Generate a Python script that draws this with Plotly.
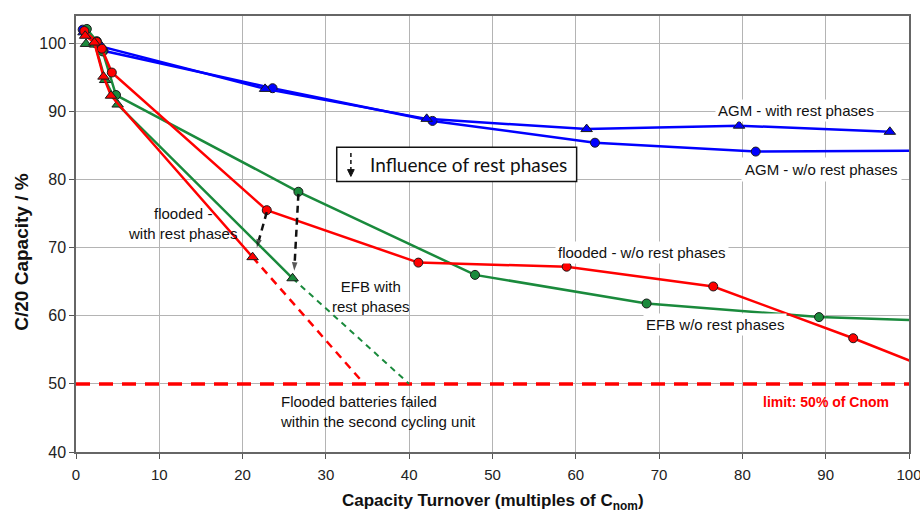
import plotly.graph_objects as go

# ---------------- data ----------------
agm_rest_x = [0.9, 2.3, 3.1, 22.7, 42.1, 61.3, 79.6, 97.7]
agm_rest_y = [101.6, 100.2, 99.5, 93.3, 88.9, 87.4, 87.9, 87.0]

agm_norest_x = [0.8, 2.4, 3.3, 23.6, 42.8, 62.3, 81.6, 110.0]
agm_norest_y = [102.0, 100.0, 98.9, 93.4, 88.6, 85.4, 84.1, 84.3]

efb_rest_x = [1.2, 2.3, 3.5, 5.0, 26.0]
efb_rest_y = [99.9, 99.8, 94.6, 91.0, 65.5]
efb_rest_ext_x = [26.0, 40.0]
efb_rest_ext_y = [65.5, 50.0]

efb_norest_x = [1.3, 2.5, 3.2, 4.8, 26.7, 47.9, 68.5, 89.2, 110.0]
efb_norest_y = [102.1, 100.3, 98.8, 92.4, 78.2, 66.0, 61.8, 59.8, 59.0]

fl_rest_x = [1.1, 2.2, 3.3, 4.2, 21.2]
fl_rest_y = [101.1, 100.1, 95.1, 92.3, 68.6]
fl_rest_ext_x = [21.2, 34.6]
fl_rest_ext_y = [68.6, 50.0]

fl_norest_x = [1.0, 2.5, 3.1, 4.3, 22.9, 41.1, 58.9, 76.5, 93.3, 105.0]
fl_norest_y = [101.8, 100.2, 99.2, 95.7, 75.5, 67.8, 67.2, 64.3, 56.7, 51.0]

# influence arrows (from w/o rest point to with-rest point)
infl_fl_x = [22.9, 21.7]
infl_fl_y = [75.2, 70.0]
infl_efb_x = [26.7, 26.2]
infl_efb_y = [77.9, 66.6]

limit_x = [0, 100]
limit_y = [50, 50]

x_ticks = [0, 10, 20, 30, 40, 50, 60, 70, 80, 90, 100]
y_ticks = [40, 50, 60, 70, 80, 90, 100]

BLUE = "#0000ff"
RED = "#ff0000"
GREEN = "#1a8a3c"
EDGE = "#1a1a1a"
FONT = "Liberation Sans, Arial, sans-serif"

fig = go.Figure()


def series(x, y, color, symbol, size):
    fig.add_trace(go.Scatter(
        x=x, y=y, mode="lines+markers",
        line=dict(color=color, width=2.5),
        marker=dict(symbol=symbol, size=size, color=color,
                    line=dict(color=EDGE, width=1)),
        showlegend=False, hoverinfo="skip"))


# limit line
fig.add_trace(go.Scatter(x=limit_x, y=limit_y, mode="lines",
                         line=dict(color=RED, width=3.5, dash="14px,9px"),
                         showlegend=False, hoverinfo="skip"))
# extrapolations
fig.add_trace(go.Scatter(x=fl_rest_ext_x, y=fl_rest_ext_y, mode="lines",
                         line=dict(color=RED, width=2.5, dash="8px,6px"),
                         showlegend=False, hoverinfo="skip"))
fig.add_trace(go.Scatter(x=efb_rest_ext_x, y=efb_rest_ext_y, mode="lines",
                         line=dict(color=GREEN, width=2, dash="6px,5px"),
                         showlegend=False, hoverinfo="skip"))

series(agm_norest_x, agm_norest_y, BLUE, "circle", 9)
series(agm_rest_x, agm_rest_y, BLUE, "triangle-up", 10)
series(efb_norest_x, efb_norest_y, GREEN, "circle", 9)
series(efb_rest_x, efb_rest_y, GREEN, "triangle-up", 10)
series(fl_norest_x, fl_norest_y, RED, "circle", 9)
series(fl_rest_x, fl_rest_y, RED, "triangle-up", 10)

# dashed influence arrows
for ax_, ay_ in [(infl_fl_x, infl_fl_y), (infl_efb_x, infl_efb_y)]:
    fig.add_trace(go.Scatter(
        x=ax_, y=ay_, mode="lines+markers",
        line=dict(color="#111111", width=2.5, dash="7px,5px"),
        marker=dict(symbol=["circle", "arrow"], size=[1, 9], color="#111111",
                    angleref="previous", line=dict(width=0)),
        showlegend=False, hoverinfo="skip"))

# Influence box
shapes = [
    dict(type="rect", xref="x", yref="y", x0=31.3, x1=60.1, y0=79.7, y1=84.75,
         line=dict(color="#111111", width=1.5), fillcolor="white", layer="above"),
    dict(type="line", xref="x", yref="y", x0=33.0, x1=33.0, y0=83.9, y1=81.4,
         line=dict(color="#111111", width=1.5, dash="4px,3px"), layer="above"),
    dict(type="path", xref="x", yref="y",
         path="M 32.6,81.45 L 33.4,81.45 L 33.0,80.45 Z",
         fillcolor="#111111", line=dict(color="#111111", width=1), layer="above"),
]

annotations = [
    dict(x=35.0, y=82.25, text="Influence of rest phases", showarrow=False,
         xanchor="left", yanchor="middle",
         font=dict(family="Lato, Open Sans, sans-serif", size=19, color="#111111")),
    dict(x=12.8, y=73.5, text="flooded -<br>with rest phases", showarrow=False,
         font=dict(family=FONT, size=15, color="#111111")),
    dict(x=35.4, y=62.8, text="EFB with<br>rest phases", showarrow=False,
         font=dict(family=FONT, size=15, color="#111111")),
    dict(x=67.9, y=69.3, text="flooded - w/o rest phases", showarrow=False,
         bgcolor="white", borderpad=2,
         font=dict(family=FONT, size=15, color="#111111")),
    dict(x=76.7, y=58.7, text="EFB w/o rest phases", showarrow=False,
         bgcolor="white", borderpad=2,
         font=dict(family=FONT, size=15, color="#111111")),
    dict(x=86.4, y=90.1, text="AGM - with rest phases", showarrow=False,
         bgcolor="white", borderpad=2,
         font=dict(family=FONT, size=15, color="#111111")),
    dict(x=89.5, y=81.5, text="AGM - w/o rest phases", showarrow=False,
         bgcolor="white", borderpad=3,
         font=dict(family=FONT, size=15, color="#111111")),
    dict(x=24.3, y=45.9, text="Flooded batteries failed<br>within the second cycling unit",
         showarrow=False, xanchor="left", align="left",
         font=dict(family=FONT, size=15, color="#111111")),
    dict(x=90.0, y=47.4, text="<b>limit: 50% of Cnom</b>", showarrow=False,
         font=dict(family=FONT, size=14, color=RED)),
    # axis titles
    dict(xref="paper", yref="paper", x=-0.065, y=0.459, textangle=-90,
         xanchor="center", yanchor="middle",
         text="<b>C/20 Capacity / %</b>", showarrow=False,
         font=dict(family=FONT, size=19, color="#111111")),
    dict(xref="paper", yref="paper", x=0.5, y=-0.114,
         xanchor="center", yanchor="middle",
         text="<b>Capacity Turnover (multiples of C<sub>nom</sub>)</b>", showarrow=False,
         font=dict(family=FONT, size=17, color="#111111")),
]

fig.update_layout(
    width=920, height=513,
    margin=dict(l=76, r=11, t=16, b=61),
    plot_bgcolor="white", paper_bgcolor="white",
    showlegend=False,
    shapes=shapes, annotations=annotations,
    font=dict(family=FONT, size=16, color="#222222"),
)
fig.update_xaxes(range=[0, 100], tickvals=x_ticks, ticks="outside", ticklen=5,
                 tickcolor="#555555", showgrid=True, gridcolor="#b4b4b4", gridwidth=1,
                 showline=True, linecolor="#666666", linewidth=1.5, mirror=True,
                 zeroline=False, ticklabeloverflow="allow", ticklabelstandoff=3,
                 automargin=False, tickfont=dict(size=15, color="#222222"))
fig.update_yaxes(range=[40, 104], tickvals=y_ticks, ticks="outside", ticklen=5,
                 tickcolor="#555555", showgrid=True, gridcolor="#b4b4b4", gridwidth=1,
                 showline=True, linecolor="#666666", linewidth=1.5, mirror=True,
                 zeroline=False, automargin=False, tickfont=dict(size=16, color="#222222"))

fig.write_html("out.html")
